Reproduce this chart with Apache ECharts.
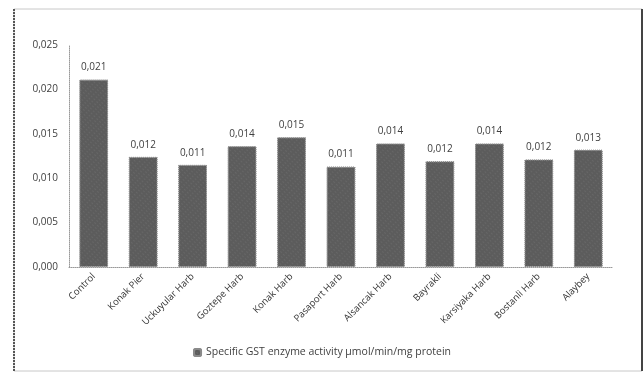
<!DOCTYPE html>
<html>
<head>
<meta charset="utf-8">
<script src="https://cdn.jsdelivr.net/npm/echarts@6/dist/echarts.min.js"></script>
<style>
  html, body { margin: 0; padding: 0; background: #fff; }
  #chart1 { width: 644px; height: 373px; }
</style>
</head>
<body>
<div id="chart1"></div>
<script>
var categories = ['Control', 'Konak Pier', 'Uckuyular Harb', 'Goztepe Harb', 'Konak Harb',
    'Pasaport Harb', 'Alsancak Harb', 'Bayrakli', 'Karsiyaka Harb', 'Bostanli Harb', 'Alaybey'];
var gstValues = [0.0211, 0.0124, 0.0115, 0.0136, 0.0146, 0.0113, 0.0139, 0.0119, 0.0139, 0.0121, 0.0132];
var yTicks = { min: 0, max: 0.025, interval: 0.005 };
var seriesName = 'Specific GST enzyme activity µmol/min/mg protein';

var fontFam = '"Open Sans", "Noto Sans", sans-serif';

var chartDom = document.getElementById('chart1');
var myChart1 = echarts.init(chartDom);

function commaFmt(v, digits) {
    return v.toFixed(digits).replace('.', ',');
}

var hatch = {
    symbol: 'rect',
    symbolSize: 0.6,
    color: 'rgba(255,255,255,0.22)',
    dashArrayX: [2, 2],
    dashArrayY: [1, 2],
    rotation: Math.PI / 4
};

var option = {
    animation: false,
    backgroundColor: '#fff',
    textStyle: { fontFamily: fontFam },
    graphic: [
        { type: 'rect', shape: { x: 14, y: 9, width: 628, height: 362 },
          style: { fill: 'none', stroke: '#c8c8c8', lineWidth: 1 } },
        { type: 'line', shape: { x1: 14, y1: 9, x2: 14, y2: 371 },
          style: { stroke: '#555', lineWidth: 2, lineDash: [2, 1] } },
        { type: 'line', shape: { x1: 642, y1: 9, x2: 642, y2: 371 },
          style: { stroke: '#444', lineWidth: 2 } }
    ],
    grid: { left: 69, right: 31, top: 45, bottom: 106 },
    legend: {
        data: [seriesName],
        bottom: 10,
        left: 'center',
        itemWidth: 7,
        itemHeight: 7,
        itemGap: 4,
        textStyle: { fontSize: 10.5, color: '#404040', fontFamily: fontFam }
    },
    xAxis: {
        type: 'category',
        data: categories,
        axisLine: { lineStyle: { color: '#999', type: 'dotted' } },
        axisTick: { show: false },
        axisLabel: { rotate: 45, fontSize: 9.5, color: '#333', interval: 0, margin: 8 }
    },
    yAxis: {
        type: 'value',
        min: yTicks.min,
        max: yTicks.max,
        interval: yTicks.interval,
        axisLine: { show: true, lineStyle: { color: '#999', type: 'dotted' } },
        axisTick: { show: false },
        splitLine: { show: false },
        axisLabel: {
            fontSize: 10, color: '#404040', margin: 11,
            formatter: function (v) { return commaFmt(v, 3); }
        }
    },
    series: [{
        name: seriesName,
        type: 'bar',
        data: gstValues,
        barWidth: '58%',
        itemStyle: {
            color: '#5c5c5c',
            borderColor: '#8a8a8a',
            borderWidth: 1,
            borderType: 'dotted',
            decal: hatch
        },
        label: {
            show: true,
            position: 'top',
            distance: 7,
            fontSize: 10,
            color: '#404040',
            formatter: function (p) { return commaFmt(p.value, 3); }
        }
    }]
};

myChart1.setOption(option);
</script>
</body>
</html>
